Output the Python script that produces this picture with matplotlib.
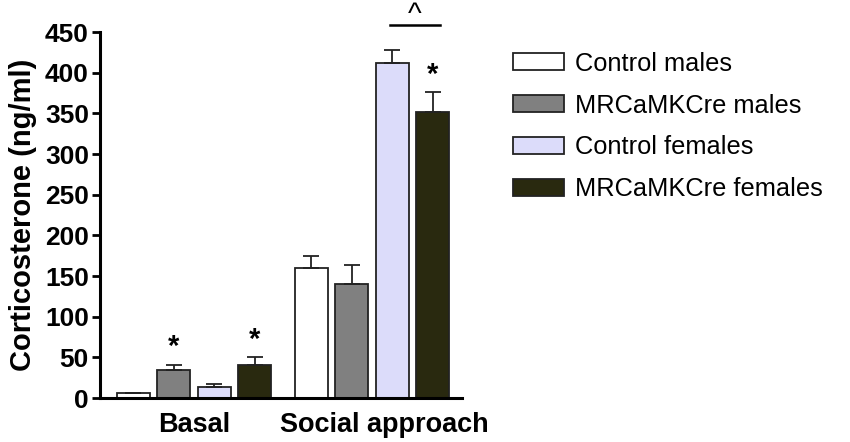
import numpy as np
import matplotlib
matplotlib.use("Agg")
import matplotlib.pyplot as plt

plt.rcParams['font.family'] = ['Liberation Sans', 'DejaVu Sans']

# data
groups = ["Basal", "Social approach"]
series = ["Control males", "MRCaMKCre males", "Control females", "MRCaMKCre females"]
means = [
    [6, 160],    # Control males
    [35, 140],   # MRCaMKCre males
    [13, 412],   # Control females
    [41, 352],   # MRCaMKCre females
]
sems = [
    [0, 15],
    [6, 23],
    [4, 16],
    [9, 24],
]
colors = ["#ffffff", "#808080", "#dcdcfa", "#29290f"]
# stars above bars: (series index, group index)
stars = [(1, 0), (3, 0), (3, 1)]

fig = plt.figure(figsize=(8.5, 4.42), dpi=100)
ax = fig.add_axes([100 / 850, 1 - 398 / 442, 362 / 850, 366 / 442])

x = np.arange(len(groups))
step = 0.2275
width = 0.185
bars = []
for i, name in enumerate(series):
    pos = x + (i - 1.5) * step
    b = ax.bar(pos, means[i], width, color=colors[i], edgecolor="#222222",
               linewidth=1.3, label=name, zorder=2)
    bars.append(b)
    # one-sided error bars (upward only)
    ax.errorbar(pos, means[i], yerr=[np.zeros(len(groups)), sems[i]], fmt="none",
                ecolor="#222222", elinewidth=1.3, capsize=6, capthick=1.3, zorder=3)

for si, gi in stars:
    xp = x[gi] + (si - 1.5) * step
    ax.text(xp, means[si][gi] + sems[si][gi] + 4, "*", ha="center", va="bottom",
            fontsize=21, fontweight="bold")

# significance line between the two female groups in social approach
x1 = x[1] + (2 - 1.5) * step - 0.01
x2 = x[1] + (3 - 1.5) * step + 0.04
ax.plot([x1, x2], [459, 459], color="black", lw=1.8, clip_on=False)
ax.text((x1 + x2) / 2, 461, "^", ha="center", va="baseline", fontsize=21, clip_on=False)

ax.set_xlim(-0.528, 1.506)
ax.set_ylim(0, 450)
ax.set_yticks(np.arange(0, 451, 50))
ax.tick_params(axis="y", length=6, width=2, labelsize=19, pad=2)
for lab in ax.get_yticklabels():
    lab.set_fontweight("bold")
ax.set_xticks([x[0], x[1] + 0.07])
ax.set_xticklabels(groups, fontsize=19.5, fontweight="bold")
ax.tick_params(axis="x", length=0, pad=10)
ax.set_ylabel("Corticosterone (ng/ml)", fontsize=21, fontweight="bold", labelpad=6)

for side in ["top", "right"]:
    ax.spines[side].set_visible(False)
for side in ["left", "bottom"]:
    ax.spines[side].set_linewidth(2.2)

fig.legend(handles=bars, labels=series, loc="upper left",
           bbox_to_anchor=(490 / 850, 1 - 29 / 442), frameon=False,
           fontsize=18.3, handlelength=2.0, handleheight=0.65,
           labelspacing=0.7, handletextpad=0.45)

fig.savefig("out.png", dpi=100)
